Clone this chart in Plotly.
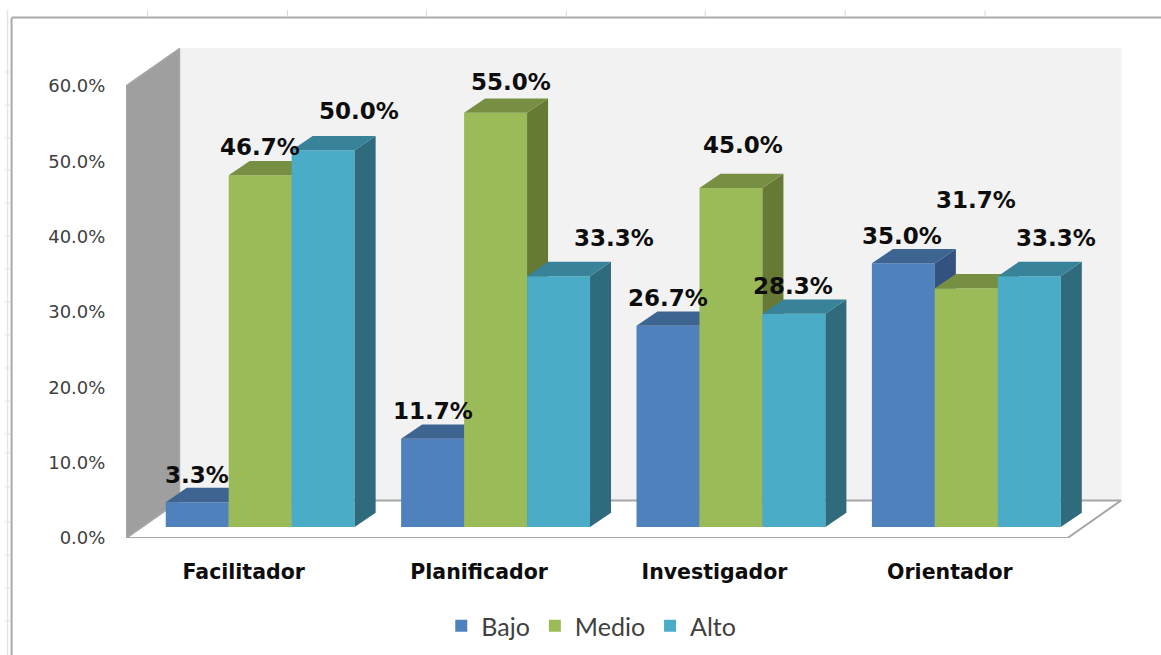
import plotly.graph_objects as go

categories = ["Facilitador", "Planificador", "Investigador", "Orientador"]
series_names = ["Bajo", "Medio", "Alto"]
bajo = [3.3, 11.7, 26.7, 35.0]
medio = [46.7, 55.0, 45.0, 31.7]
alto = [50.0, 33.3, 28.3, 33.3]
series_values = [bajo, medio, alto]
y_ticks = [0, 10, 20, 30, 40, 50, 60]

# styles
front = ["#4F81BD", "#9BBB59", "#4AACC6"]
top_c = ["#3E6592", "#778F43", "#38829A"]
side_c = ["#33527F", "#667A35", "#2F6B7C"]
# label nudges in pixels (right, up), per series
label_dx = [[0, 0, 0, -1], [0, 15, 12, 10], [36, 55, -1, 27]]
label_dy = [[27, 28, 28, 27], [28, 31, 43, 88], [39, 38, 28, 38]]

# canvas / scale
W, H = 1161, 655
ML, MB = 125.5, 117
PX_X = 235.5          # pixels per category
PX_Y = 7.533          # pixels per percent
X0 = -0.5
XR = [X0, X0 + (W - ML) / PX_X]
YR = [0, (H - MB) / PX_Y]
bar_w = 63 / PX_X
lift_x, lift_y = 16.5 / PX_X, 11 / PX_Y     # bars stand inside the floor
bar_dx, bar_dy = 21 / PX_X, 14.3 / PX_Y     # bar depth
wall_dx, wall_dy = 53.5 / PX_X, 37.5 / PX_Y # chart depth
X_END = 3.5

fig = go.Figure()

def poly(xs, ys, color, axis=("x", "y"), line=None, lw=0):
    fig.add_trace(go.Scatter(
        x=xs, y=ys, mode="lines", fill="toself", fillcolor=color,
        line=dict(color=line or color, width=lw), hoverinfo="skip",
        showlegend=False, xaxis=axis[0], yaxis=axis[1]))

ymax = 60
# back wall
poly([X0 + wall_dx, X_END + wall_dx, X_END + wall_dx, X0 + wall_dx],
     [wall_dy, wall_dy, ymax + wall_dy, ymax + wall_dy], "#F2F2F2", line="#F2F2F2", lw=1)
# floor
poly([X0, X_END, X_END + wall_dx, X0 + wall_dx, X0],
     [0, 0, wall_dy, wall_dy, 0], "#FFFFFF", line="#A6A6A6", lw=2)
# left wall
poly([X0, X0 + wall_dx, X0 + wall_dx, X0, X0],
     [0, wall_dy, ymax + wall_dy, ymax, 0], "#9F9F9F", line="#A6A6A6", lw=1.5)

for s, (name, vals) in enumerate(zip(series_names, series_values)):
    k = s + 2
    ax = (f"x{k}", f"y{k}")
    cx = [i + lift_x + (s - 1) * bar_w for i in range(len(categories))]
    fig.add_trace(go.Bar(
        x=cx, y=vals, base=[lift_y] * len(vals), width=bar_w, name=name,
        marker=dict(color=front[s], line=dict(width=0)),
        xaxis=ax[0], yaxis=ax[1],
        hovertemplate=name + ": %{y:.1f}%<extra></extra>"))
    for c, v in zip(cx, vals):
        xl, xr = c - bar_w / 2, c + bar_w / 2
        b, t = lift_y, lift_y + v
        poly([xr, xr + bar_dx, xr + bar_dx, xr, xr],
             [b, b + bar_dy, t + bar_dy, t, b], side_c[s], ax)
        poly([xl, xr, xr + bar_dx, xl + bar_dx, xl],
             [t, t, t + bar_dy, t + bar_dy, t], top_c[s], ax)
    for i, (c, v) in enumerate(zip(cx, vals)):
        fig.add_annotation(
            x=c, y=lift_y + v, xref=ax[0], yref=ax[1], text=f"<b>{v:.1f}%</b>",
            showarrow=False, xanchor="center", yanchor="middle",
            xshift=label_dx[s][i], yshift=label_dy[s][i],
            font=dict(family="DejaVu Sans", size=23, color="#0D0D0D"))

layout_axes = {}
for k in (2, 3, 4):
    layout_axes[f"xaxis{k}"] = dict(range=XR, overlaying="x", visible=False, anchor=f"y{k}", fixedrange=True)
    layout_axes[f"yaxis{k}"] = dict(range=YR, overlaying="y", visible=False, anchor=f"x{k}", fixedrange=True)

def fx(px):
    return (px - ML) / (W - ML)

def fy(py):
    return (H - MB - py) / (H - MB)

shapes = []
def seg(x0, y0, x1, y1, color, w):
    shapes.append(dict(type="line", xref="paper", yref="paper",
                       x0=fx(x0), y0=fy(y0), x1=fx(x1), y1=fy(y1),
                       line=dict(color=color, width=w)))

seg(11, 18, 11, 655, "#A9A9A9", 2)
seg(11, 17.5, 1161, 17.5, "#A9A9A9", 2)
seg(7, 10, 7, 655, "#E3E3E3", 1.5)
for tx in (147, 287, 426, 566, 705, 845, 985):
    seg(tx, 10, tx, 17, "#D9D9D9", 1)
for ty in (72, 105, 138, 170, 203, 236, 269, 302, 335, 368, 401, 434, 453, 487, 522, 555, 588, 621):
    seg(4, ty, 10, ty, "#E3E3E3", 1)

fig.update_layout(
    width=W, height=H, autosize=False,
    margin=dict(l=ML, r=0, t=0, b=MB, pad=0),
    paper_bgcolor="white", plot_bgcolor="rgba(0,0,0,0)",
    barmode="overlay", shapes=shapes,
    font=dict(family="DejaVu Sans", color="#404040"),
    xaxis=dict(range=XR, showgrid=False, zeroline=False, showline=False,
               tickmode="array", tickvals=list(range(len(categories))),
               ticktext=[f"<b>{c}</b>" for c in categories],
               ticks="outside", ticklen=15, tickcolor="rgba(0,0,0,0)",
               tickfont=dict(family="DejaVu Sans", size=20.5, color="#0D0D0D"), fixedrange=True),
    yaxis=dict(range=YR, showgrid=False, zeroline=False, showline=False,
               tickmode="array", tickvals=y_ticks, ticktext=[f"{t:.1f}%" for t in y_ticks],
               ticks="outside", ticklen=16, tickcolor="rgba(0,0,0,0)",
               tickfont=dict(family="DejaVu Sans", size=18, color="#404040"), fixedrange=True),
    legend=dict(orientation="h", xanchor="center", yanchor="middle",
                x=fx(591), y=fy(626), font=dict(family="Lato", size=25, color="#404040"),
                bgcolor="rgba(0,0,0,0)", itemclick=False, itemdoubleclick=False),
    **layout_axes)

fig.write_html("out.html", config={"displayModeBar": False},
               post_script="document.body.style.margin='0';document.documentElement.style.overflow='hidden';")
